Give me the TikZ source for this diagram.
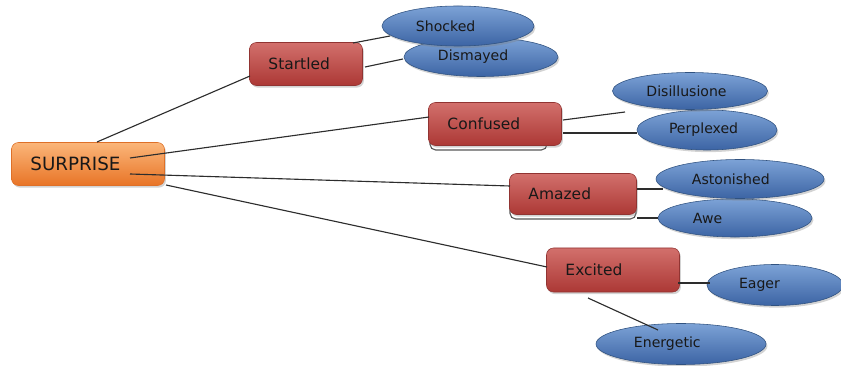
\documentclass[tikz,border=0pt]{standalone}
\usepackage{fontspec}
\setmainfont{DejaVu Sans}
\usepackage{tikz}
\usetikzlibrary{shapes.geometric,shadows}
\definecolor{ortop}{RGB}{251,182,122}
\definecolor{orbot}{RGB}{232,116,38}
\definecolor{orline}{RGB}{222,112,40}
\definecolor{redtop}{RGB}{210,112,108}
\definecolor{redbot}{RGB}{172,56,53}
\definecolor{redline}{RGB}{145,52,50}
\definecolor{bluetop}{RGB}{124,162,214}
\definecolor{bluebot}{RGB}{60,100,164}
\definecolor{blueline}{RGB}{48,82,128}
\definecolor{ink}{RGB}{24,24,24}
\definecolor{wire}{RGB}{45,45,45}
\tikzset{
  root/.style={rectangle, rounded corners=5pt, draw=orline, top color=ortop, bottom color=orbot,
    inner sep=0pt, align=left, text=ink, font=\fontsize{13}{15}\selectfont,
    drop shadow={shadow xshift=1pt, shadow yshift=-1.5pt, opacity=.35}},
  emotion/.style={rectangle, rounded corners=5pt, draw=redline, top color=redtop, bottom color=redbot,
    inner sep=0pt, align=left, text=ink, font=\fontsize{11}{13}\selectfont,
    drop shadow={shadow xshift=1pt, shadow yshift=-1.5pt, opacity=.35}},
  feeling/.style={ellipse, draw=blueline, top color=bluetop, bottom color=bluebot,
    inner sep=0pt, align=left, text=ink, font=\fontsize{10}{12}\selectfont,
    drop shadow={shadow xshift=1pt, shadow yshift=-1.5pt, opacity=.35}},
  ghost/.style={draw=wire!80, fill=white, rounded corners=4pt, line width=.8pt},
  wire/.style={draw=wire, line width=.8pt}
}
\begin{document}
\begin{tikzpicture}[x=0.025cm, y=-0.025cm]
\useasboundingbox (0,0) rectangle (841,366);
\draw[ghost] (430,110) rectangle (547,150);
\draw[ghost] (510,185) rectangle (636,219);
\node[root, minimum width=3.825cm, minimum height=1.075cm, text width=2.875cm] (surprise) at (88,164) {SURPRISE};
\node[emotion, minimum width=2.825cm, minimum height=1.075cm, text width=1.875cm] (startled) at (306,64) {Startled};
\node[emotion, minimum width=3.325cm, minimum height=1.075cm, text width=2.375cm] (confused) at (495,124) {Confused};
\node[emotion, minimum width=3.175cm, minimum height=1.025cm, text width=2.225cm] (amazed) at (573,194) {Amazed};
\node[emotion, minimum width=3.325cm, minimum height=1.1cm, text width=2.375cm] (excited) at (613,270) {Excited};
\node[feeling, minimum width=3.85cm, minimum height=.975cm, text width=2.15cm] (dismayed) at (481,57) {Dismayed};
\node[feeling, minimum width=3.8cm, minimum height=1cm, text width=2.1cm] (shocked) at (458,26) {Shocked};
\node[feeling, minimum width=3.5cm, minimum height=1cm, text width=1.9cm] (perplexed) at (707,130) {Perplexed};
\node[feeling, minimum width=3.875cm, minimum height=.925cm, text width=2.175cm] (disillusione) at (690,91) {Disillusione};
\node[feeling, minimum width=3.85cm, minimum height=.95cm, text width=2.1cm] (awe) at (735,218) {Awe};
\node[feeling, minimum width=4.2cm, minimum height=.975cm, text width=2.4cm] (astonished) at (740,179) {Astonished};
\node[feeling, minimum width=3.4cm, minimum height=1.025cm, text width=1.8cm] (eager) at (775,285) {Eager};
\node[feeling, minimum width=4.25cm, minimum height=1.025cm, text width=2.35cm] (energetic) at (681,344) {Energetic};
\draw[wire] ([shift={(9,-22)}]surprise.center) -- ([shift={(-56,12)}]startled.center);
\draw[wire] ([shift={(42,-6)}]surprise.center) -- ([shift={(-66,-7)}]confused.center);
\draw[wire] ([shift={(42,10)}]surprise.center) -- ([shift={(-63,-8)}]amazed.center);
\draw[wire] ([shift={(78,21)}]surprise.center) -- ([shift={(-66,-3)}]excited.center);
\draw[wire] ([shift={(47,-21)}]startled.center) -- ([shift={(-68,10)}]shocked.center);
\draw[wire] ([shift={(59,3)}]startled.center) -- ([shift={(-78,2)}]dismayed.center);
\draw[wire] ([shift={(68,-4)}]confused.center) -- ([shift={(-65,21)}]disillusione.center);
\draw[wire] ([shift={(68,9)}]confused.center) -- ([shift={(-70,3)}]perplexed.center);
\draw[wire] ([shift={(64,-5)}]amazed.center) -- ([shift={(-77,10)}]astonished.center);
\draw[wire] ([shift={(64,24)}]amazed.center) -- ([shift={(-77,0)}]awe.center);
\draw[wire] ([shift={(65,13)}]excited.center) -- ([shift={(-65,-2)}]eager.center);
\draw[wire] ([shift={(-25,28)}]excited.center) -- ([shift={(-23,-14)}]energetic.center);
\end{tikzpicture}
\end{document}
